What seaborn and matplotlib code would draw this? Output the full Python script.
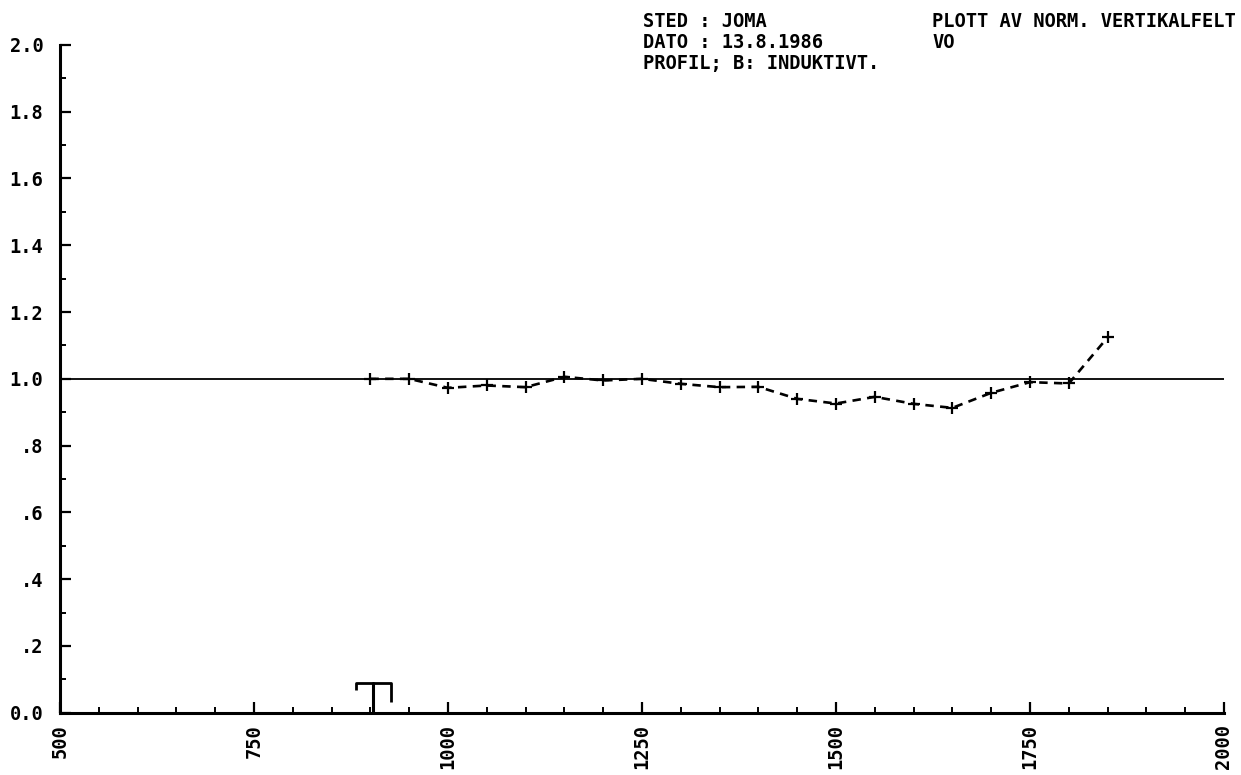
import matplotlib
matplotlib.use("Agg")
import matplotlib.pyplot as plt
import numpy as np
import pandas as pd
import seaborn as sns
from matplotlib.ticker import MultipleLocator, FixedLocator, FixedFormatter

# Profile stations and normalised vertical field values
stations = [900, 950, 1000, 1050, 1100, 1150, 1200, 1250, 1300, 1350,
            1400, 1450, 1500, 1550, 1600, 1650, 1700, 1750, 1800, 1850]
vertical_field = [1.00, 1.00, 0.973, 0.98, 0.975, 1.006, 0.995, 1.00, 0.985, 0.975,
                  0.976, 0.94, 0.926, 0.946, 0.925, 0.913, 0.958, 0.99, 0.986, 1.124]

reference_level = 1.0
transmitter_station = 904

y_ticks = [0.0, 0.2, 0.4, 0.6, 0.8, 1.0, 1.2, 1.4, 1.6, 1.8, 2.0]
y_tick_labels = ["0.0", ".2", ".4", ".6", ".8", "1.0", "1.2", "1.4", "1.6", "1.8", "2.0"]
x_ticks = [500, 750, 1000, 1250, 1500, 1750, 2000]
x_tick_labels = ["500", "750", "1000", "1250", "1500", "1750", "2000"]

header_left = ["STED : JOMA", "DATO : 13.8.1986", "PROFIL; B: INDUKTIVT."]
header_right = ["PLOTT AV NORM. VERTIKALFELT", "VO"]

df = pd.DataFrame({"station": stations, "field": vertical_field})

sns.set_style("ticks")
plt.rcParams["font.family"] = ["DejaVu Sans Mono"]
plt.rcParams["font.weight"] = "bold"

fig = plt.figure(figsize=(12.41, 7.75), dpi=100)
ax = fig.add_axes([0.0483, 0.0804, 0.9380, 0.8616])

# Reference level line
ax.axhline(reference_level, color="black", lw=1.3, zorder=2)

# Measured profile
sns.lineplot(data=df, x="station", y="field", ax=ax, color="black",
             lw=1.9, marker="+", markersize=9, markeredgewidth=1.6,
             markeredgecolor="black", zorder=3)
ax.lines[-1].set_linestyle((0, (3.2, 2.4)))

# Transmitter symbol
hw = 22
tx = [transmitter_station - hw, transmitter_station - hw,
      transmitter_station + hw, transmitter_station + hw]
ty = [0.068, 0.089, 0.089, 0.032]
ax.plot(tx, ty, color="black", lw=2.0, solid_capstyle="butt", zorder=3)
ax.plot([transmitter_station, transmitter_station], [0.0, 0.089],
        color="black", lw=2.2, zorder=3)

ax.set_xlim(500, 2000)
ax.set_ylim(0, 2.0)
ax.set_xlabel("")
ax.set_ylabel("")

ax.yaxis.set_major_locator(FixedLocator(y_ticks))
ax.yaxis.set_major_formatter(FixedFormatter(y_tick_labels))
ax.yaxis.set_minor_locator(MultipleLocator(0.1))
ax.xaxis.set_major_locator(FixedLocator(x_ticks))
ax.xaxis.set_major_formatter(FixedFormatter(x_tick_labels))
ax.xaxis.set_minor_locator(MultipleLocator(50))

ax.tick_params(axis="both", which="major", direction="in", length=8,
               width=1.6, color="black", labelsize=13.5, labelcolor="black")
ax.tick_params(axis="both", which="minor", direction="in", length=4,
               width=1.4, color="black")
ax.tick_params(axis="y", which="major", pad=12)
ax.tick_params(axis="x", which="major", pad=8.5, labelrotation=90)

for side in ["top", "right"]:
    ax.spines[side].set_visible(False)
for side in ["left", "bottom"]:
    ax.spines[side].set_linewidth(2.2)
    ax.spines[side].set_color("black")

# Header block
for i, line in enumerate(header_left):
    fig.text(643 / 1241, 1 - (12 + 21 * i) / 775, line, ha="left", va="top",
             fontsize=13.5, fontweight="bold", color="black")
for i, line in enumerate(header_right):
    fig.text(932 / 1241, 1 - (12 + 21 * i) / 775, line, ha="left", va="top",
             fontsize=13.5, fontweight="bold", color="black")

fig.savefig("out.png", dpi=100, facecolor="white")
